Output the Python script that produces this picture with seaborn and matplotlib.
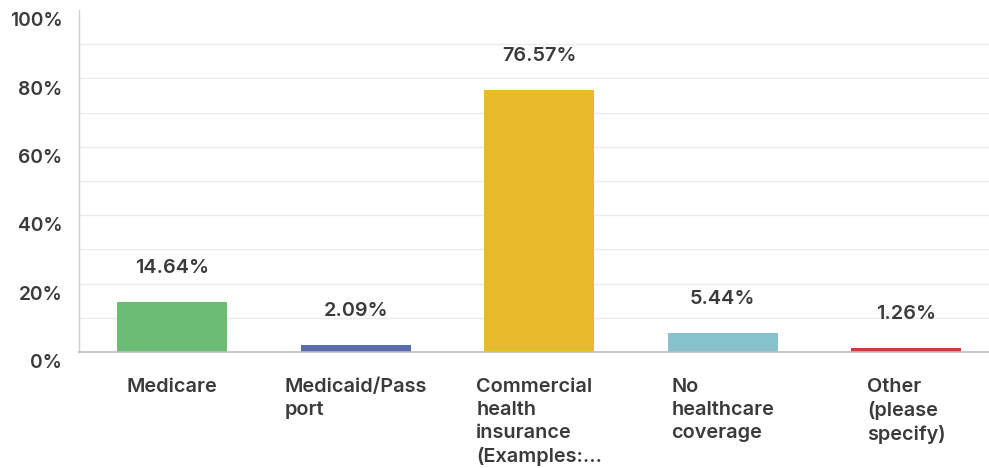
import matplotlib
matplotlib.use("Agg")
import matplotlib.pyplot as plt
import seaborn as sns
import pandas as pd

categories = [
    "Medicare",
    "Medicaid/Pass\nport",
    "Commercial\nhealth\ninsurance\n(Examples:...",
    "No\nhealthcare\ncoverage",
    "Other\n(please\nspecify)",
]
values = [14.64, 2.09, 76.57, 5.44, 1.26]
colors = ["#6bbd76", "#5a6cab", "#e8bb2c", "#86c2cb", "#cf3a3e"]
y_ticks = [0, 20, 40, 60, 80, 100]

sns.set_theme(style="white")
plt.rcParams["font.family"] = ["Inter", "DejaVu Sans"]

TEXT = "#3a3a3a"
FS = 14.3

W, H = 989, 468
fig = plt.figure(figsize=(W / 100, H / 100), dpi=100)
ax = fig.add_axes([79 / W, (H - 352) / H, (W - 79) / W, (352 - 10) / H])

df = pd.DataFrame({"category": categories, "value": values})
sns.barplot(data=df, x="category", y="value", hue="category",
            palette=colors, legend=False, width=0.6, saturation=1,
            linewidth=0, ax=ax)

ax.set_xlim(-0.507, 4.45)
ax.set_ylim(0, 100)

# light horizontal gridlines every 10%
for g in range(10, 100, 10):
    ax.axhline(g, color="#ebebeb", linewidth=1.0, zorder=0)

# y tick labels, sitting a little below their gridlines
ax.set_yticks(y_ticks)
ax.set_yticklabels([])
ax.tick_params(axis="y", length=0)
ytrans = ax.get_yaxis_transform()
for t in y_ticks:
    ax.annotate(f"{t}%", xy=(0, t), xycoords=ytrans, xytext=(-12, -8),
                textcoords="offset points", ha="right", va="center",
                fontsize=FS - 0.5, fontweight="semibold", color=TEXT)

ax.set_xticks(range(len(categories)))
ax.set_xticklabels([])
ax.tick_params(axis="x", length=0)
for i, name in enumerate(categories):
    ax.annotate(name, xy=(i, 0), xycoords="data", xytext=(0, -18.5),
                textcoords="offset points", ha="center", va="top",
                multialignment="left", fontsize=FS, fontweight="semibold",
                color=TEXT, linespacing=1.36)

for i, v in enumerate(values):
    ax.annotate(f"{v:.2f}%", xy=(i, v), xycoords="data", xytext=(0, 24.5),
                textcoords="offset points", ha="center", va="center",
                fontsize=FS, fontweight="semibold", color=TEXT)

ax.set_xlabel("")
ax.set_ylabel("")
for side in ["top", "right"]:
    ax.spines[side].set_visible(False)
ax.spines["left"].set_color("#d0d0d0")
ax.spines["bottom"].set_color("#bdbdbd")
ax.spines["left"].set_linewidth(1.0)
ax.spines["bottom"].set_linewidth(1.2)

fig.savefig("out.png", dpi=100, facecolor="white")
